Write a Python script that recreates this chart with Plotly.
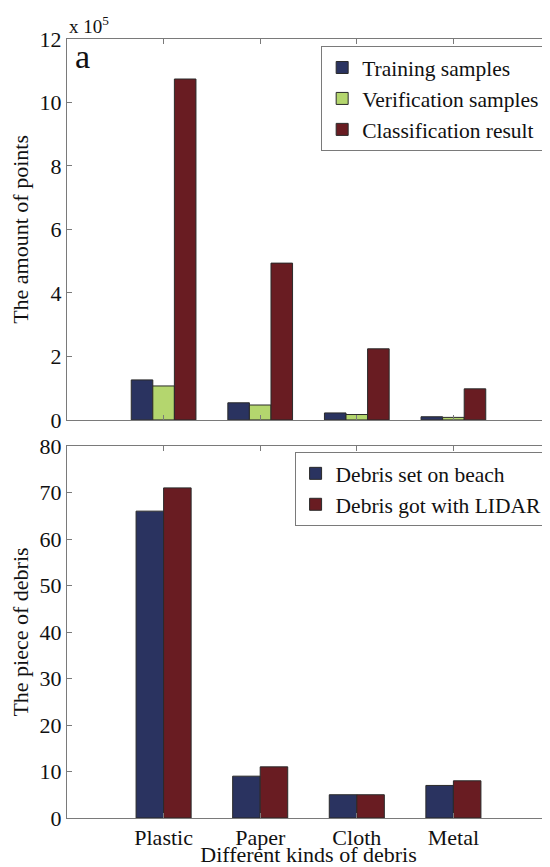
import plotly.graph_objects as go

categories = ["Plastic", "Paper", "Cloth", "Metal"]

# Panel a: amount of points
training_samples = [126000, 54000, 22000, 10000]
verification_samples = [107000, 47000, 17000, 8000]
classification_result = [1074000, 494000, 224000, 98000]

# Panel b: pieces of debris
debris_on_beach = [66, 9, 5, 7]
debris_lidar = [71, 11, 5, 8]

top_ticks = [0, 200000, 400000, 600000, 800000, 1000000, 1200000]
top_ticktext = ["0", "2", "4", "6", "8", "10", "12"]
bottom_ticks = [0, 10, 20, 30, 40, 50, 60, 70, 80]

NAVY = "#2A3360"
GREEN = "#B4D66E"
RED = "#691C22"
EDGE = "#2a2a2a"
AX = "#7a7a7a"
FONT = "Times New Roman, Liberation Serif, DejaVu Serif, serif"
TXT = "#111111"

fig = go.Figure()

def bar(name, y, color, xa, ya, legend):
    return go.Bar(x=categories, y=y, name=name, xaxis=xa, yaxis=ya,
                  marker=dict(color=color, line=dict(color=EDGE, width=1)),
                  legend=legend, offsetgroup=name)

fig.add_trace(bar("Training samples", training_samples, NAVY, "x", "y", "legend"))
fig.add_trace(bar("Verification samples", verification_samples, GREEN, "x", "y", "legend"))
fig.add_trace(bar("Classification result", classification_result, RED, "x", "y", "legend"))
fig.add_trace(bar("Debris set on beach", debris_on_beach, NAVY, "x2", "y2", "legend2"))
fig.add_trace(bar("Debris got with LIDAR", debris_lidar, RED, "x2", "y2", "legend2"))

axis_common = dict(showline=True, linecolor=AX, linewidth=1, mirror="ticks",
                   ticks="inside", ticklen=5, tickcolor=AX, showgrid=False,
                   zeroline=False, automargin=False,
                   tickfont=dict(family=FONT, size=22, color=TXT))

title_font = dict(family=FONT, size=22, color=TXT)
legend_font = dict(family=FONT, size=21.5, color=TXT)

# The page body has an 8px margin; the figure is sized so the page is filled.
fig.update_layout(
    width=542, height=859,
    margin=dict(l=59, r=0, t=31, b=49),
    paper_bgcolor="white", plot_bgcolor="white",
    font=dict(family=FONT, size=21, color=TXT),
    barmode="group",
    bargap=0.33,
    showlegend=True,
    xaxis=dict(domain=[0, 1], anchor="y", range=[-1, 4], showticklabels=False, **axis_common),
    yaxis=dict(domain=[0.511, 1.0], anchor="x", range=[0, 1200000], tickvals=top_ticks,
               ticktext=top_ticktext,
               title=dict(text="The amount of points", font=title_font, standoff=6),
               **axis_common),
    xaxis2=dict(domain=[0, 1], anchor="y2", range=[-1, 4],
                title=dict(text="Different kinds of debris", font=title_font, standoff=2),
                **axis_common),
    yaxis2=dict(domain=[0, 0.4775], anchor="x2", range=[0, 80], tickvals=bottom_ticks,
                title=dict(text="The piece of debris", font=title_font, standoff=6),
                **axis_common),
    legend=dict(x=0.99, xanchor="right", y=0.991, yanchor="top",
                bordercolor=AX, borderwidth=1, bgcolor="white",
                font=legend_font, tracegroupgap=0),
    legend2=dict(x=0.995, xanchor="right", y=0.470, yanchor="top",
                 bordercolor=AX, borderwidth=1, bgcolor="white",
                 font=legend_font, tracegroupgap=0),
    annotations=[
        dict(text="x 10<sup>5</sup>", xref="paper", yref="paper", x=0.0, y=1.018,
             xanchor="left", yanchor="middle", showarrow=False,
             font=dict(family=FONT, size=19, color=TXT)),
        dict(text="a", xref="paper", yref="paper", x=0.013, y=0.978,
             xanchor="left", yanchor="middle", showarrow=False,
             font=dict(family=FONT, size=34, color=TXT)),
    ],
)

# bottom panel groups are narrower than the top ones
fig.data[3].width = 0.285
fig.data[4].width = 0.285
fig.data[3].offset = -0.285
fig.data[4].offset = 0.0

fig.write_html("out.html")
